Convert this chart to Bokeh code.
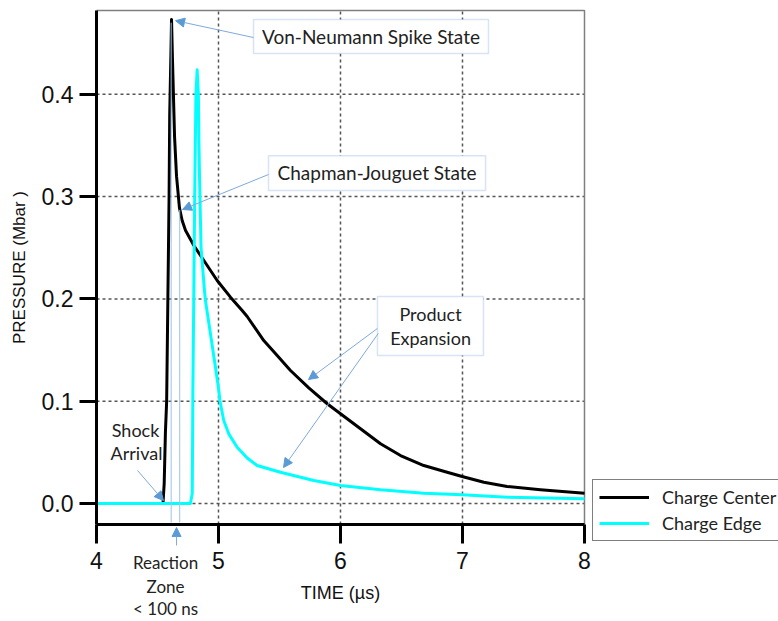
from bokeh.plotting import figure
from bokeh.models import (Range1d, FixedTicker, PrintfTickFormatter, Legend, LegendItem,
                          Label, Arrow, NormalHead, BoxAnnotation)
from bokeh.embed import file_html
from bokeh.resources import INLINE

# ---- data ----
time_center = [4.0, 4.545, 4.555, 4.565, 4.575, 4.585, 4.595, 4.60, 4.61, 4.615, 4.623,
               4.64, 4.656, 4.68, 4.702, 4.73, 4.798, 4.88, 4.989, 5.098, 5.194, 5.235,
               5.371, 5.481, 5.59, 5.74, 5.891, 6.0, 6.164, 6.328, 6.492, 6.683, 6.874,
               6.997, 7.175, 7.366, 7.639, 8.0]
pressure_center = [0.0, 0.0, 0.02, 0.07, 0.10, 0.20, 0.30, 0.38, 0.44, 0.473, 0.433,
                   0.358, 0.32, 0.289, 0.2766, 0.2669, 0.2522, 0.2375, 0.218, 0.2017, 0.1887,
                   0.1828, 0.1593, 0.1447, 0.13, 0.1131, 0.0975, 0.0877, 0.073, 0.0584,
                   0.0469, 0.0371, 0.0306, 0.0264, 0.0208, 0.0166, 0.0134, 0.0101]
time_edge = [4.0, 4.77, 4.785, 4.79, 4.805, 4.815, 4.825, 4.835, 4.84, 4.845, 4.857,
             4.885, 4.893, 4.934, 4.975, 5.003, 5.011, 5.043, 5.084, 5.153, 5.235, 5.317,
             5.508, 5.781, 6.0, 6.328, 6.683, 6.997, 7.366, 8.0]
pressure_edge = [0.0, 0.0, 0.01, 0.11, 0.30, 0.40, 0.424, 0.40, 0.35, 0.316, 0.25,
                 0.208, 0.1984, 0.1659, 0.1332, 0.1105, 0.1007, 0.0811, 0.0681, 0.055, 0.0445,
                 0.0372, 0.0306, 0.0225, 0.0176, 0.0134, 0.0101, 0.0085, 0.0062, 0.0046]
series_names = ["Charge Center", "Charge Edge"]
x_ticks = [4, 5, 6, 7, 8]
y_ticks = [0.0, 0.1, 0.2, 0.3, 0.4]

# plotting box (data units) and the visible window around it
X_MIN, X_MAX = 4.0, 8.0
Y_MIN, Y_MAX = -0.0205, 0.482
VIEW_X = (3.2131, 9.5902)
VIEW_Y = (-0.11535, 0.49169)

ANN_FONT = "Lato"
ARROW_LINE = "#7fa9dc"
ARROW_HEAD = "#5b9bd5"
BOX_LINE = "#7da7d9"
TXT = "#222222"
GRID = "#555555"

p = figure(width=778, height=621, output_backend="svg", toolbar_location=None,
           x_range=Range1d(*VIEW_X), y_range=Range1d(*VIEW_Y), min_border=0,
           x_axis_label="TIME (µs)", y_axis_label="PRESSURE (Mbar )")
p.background_fill_color = "white"
p.border_fill_color = "white"
p.outline_line_color = None
p.xgrid.visible = False
p.ygrid.visible = False

for ax in (p.xaxis[0], p.yaxis[0]):
    ax.axis_line_width = 3
    ax.axis_line_color = "black"
    ax.major_tick_line_width = 3
    ax.major_tick_line_color = "black"
    ax.major_tick_in = 0
    ax.minor_tick_line_color = None
    ax.major_label_text_font = "Liberation Sans"
    ax.major_label_text_font_size = "23px"
    ax.major_label_text_color = "#111111"
    ax.axis_label_text_font = "Liberation Sans"
    ax.axis_label_text_font_style = "normal"
    ax.axis_label_text_color = "#111111"

p.xaxis.fixed_location = Y_MIN
p.xaxis.bounds = (X_MIN, X_MAX)
p.yaxis.fixed_location = X_MIN
p.yaxis.bounds = (Y_MIN, Y_MAX)
p.xaxis.ticker = FixedTicker(ticks=x_ticks)
p.yaxis.ticker = FixedTicker(ticks=y_ticks)
p.yaxis.formatter = PrintfTickFormatter(format="%.1f")
p.xaxis.major_tick_out = 19
p.yaxis.major_tick_out = 17
p.xaxis.major_label_standoff = 9
p.yaxis.major_label_standoff = 6
p.xaxis.axis_label_text_font_size = "18px"
p.yaxis.axis_label_text_font_size = "17px"
p.xaxis.axis_label_standoff = 10
p.yaxis.axis_label_standoff = 10

# dotted grid inside the plotting box
inner_x = x_ticks[1:-1]
p.segment(x0=inner_x, y0=[Y_MIN] * len(inner_x), x1=inner_x, y1=[Y_MAX] * len(inner_x),
          line_color=GRID, line_width=1.5, line_dash="3 3")
p.segment(x0=[X_MIN] * len(y_ticks), y0=y_ticks, x1=[X_MAX] * len(y_ticks), y1=y_ticks,
          line_color=GRID, line_width=1.5, line_dash="3 3")
# thin grey frame on top and right
p.line(x=[X_MIN, X_MAX, X_MAX], y=[Y_MAX, Y_MAX, Y_MIN], line_color="#7f7f7f",
       line_width=1.5)

r_center = p.line(time_center, pressure_center, line_color="black", line_width=3,
                  line_join="round")
r_edge = p.line(time_edge, pressure_edge, line_color="#00ffff", line_width=3,
                line_join="round")

legend = Legend(items=[LegendItem(label=series_names[0], renderers=[r_center]),
                       LegendItem(label=series_names[1], renderers=[r_edge])],
                location=(592, 80), padding=6, spacing=4, margin=0,
                glyph_width=50, glyph_height=18, label_height=18, label_standoff=13,
                label_text_font=ANN_FONT, label_text_font_size="18px",
                label_text_color=TXT, border_line_color="black", border_line_width=1.5,
                background_fill_color="white", background_fill_alpha=1.0)
p.add_layout(legend)

# ---- annotations ----
for xs, ytop in ((4.612, 0.47), (4.682, 0.287)):
    p.add_layout(Arrow(end=None, x_start=xs, y_start=ytop, x_end=xs, y_end=-0.0186,
                       line_color="#9dc3e6", line_width=1))

boxes = [
    (5.287, 7.213, 0.473, 0.440),
    (5.41, 7.189, 0.340, 0.306),
    (6.303, 7.172, 0.2023, 0.1447),
]
for l, r, t, b in boxes:
    p.add_layout(BoxAnnotation(left=l, right=r, top=t, bottom=b, fill_color="white",
                               fill_alpha=1.0, line_color=BOX_LINE, line_width=1.5))

labels = [
    (6.25, 0.4565, "Von-Neumann Spike State", "19px"),
    (6.30, 0.3236, "Chapman-Jouguet State", "19px"),
    (6.738, 0.1848, "Product", "18px"),
    (6.738, 0.1613, "Expansion", "18px"),
    (4.32, 0.0723, "Shock", "18px"),
    (4.328, 0.0489, "Arrival", "18px"),
    (4.566, -0.0577, "Reaction", "17px"),
    (4.566, -0.0811, "Zone", "17px"),
    (4.566, -0.1026, "< 100 ns", "17px"),
]
for x, y, txt, fs in labels:
    p.add_layout(Label(x=x, y=y, text=txt, text_align="center", text_baseline="middle",
                       text_font=ANN_FONT, text_font_size=fs, text_color=TXT))

arrows = [
    (5.287, 0.4555, 4.648, 0.472),
    (5.41, 0.3216, 4.705, 0.2874),
    (6.303, 0.1711, 5.738, 0.1212),
    (6.31, 0.1663, 5.533, 0.0352),
    (4.336, 0.0323, 4.549, 0.0029),
    (4.656, -0.041, 4.656, -0.0235),
]
for xs, ys, xe, ye in arrows:
    p.add_layout(Arrow(end=NormalHead(size=9, fill_color=ARROW_HEAD, line_color=ARROW_HEAD,
                                      line_width=1),
                       x_start=xs, y_start=ys, x_end=xe, y_end=ye,
                       line_color=ARROW_LINE, line_width=1))

open("out.html", "w").write(file_html(p, INLINE))
